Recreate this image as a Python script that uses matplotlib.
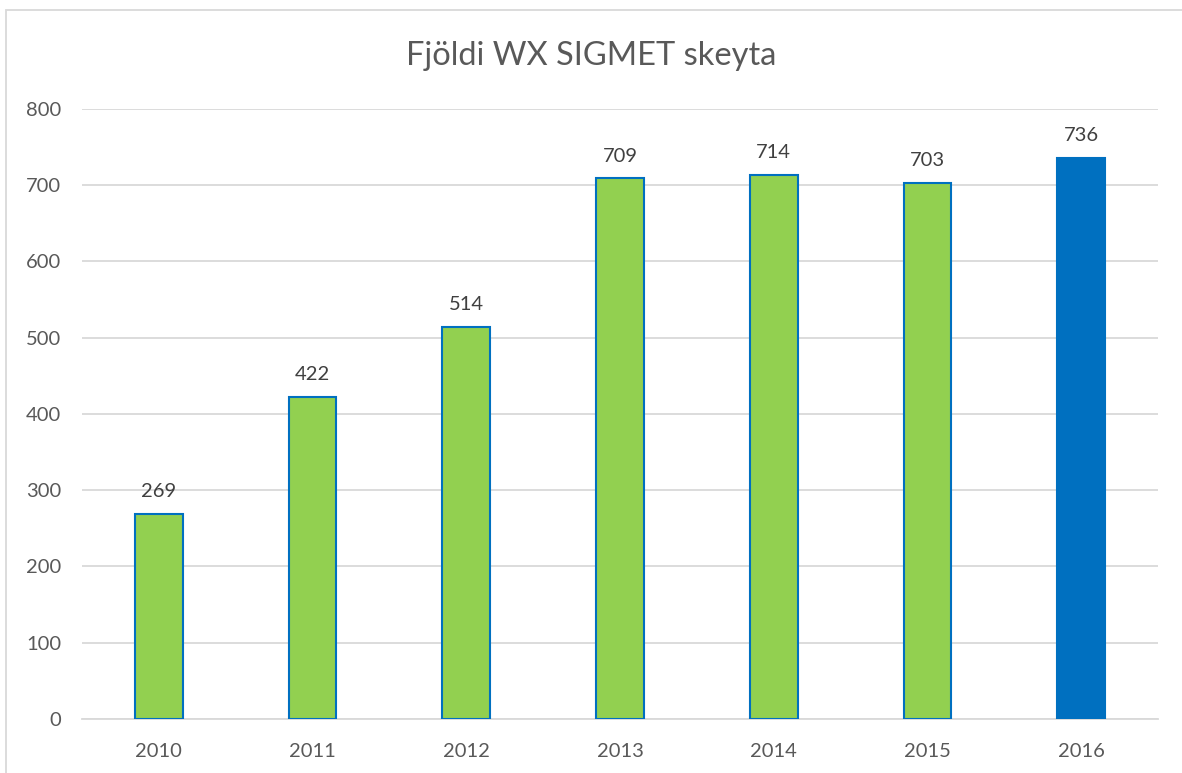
import matplotlib
matplotlib.use('Agg')
import matplotlib.pyplot as plt
from matplotlib.patches import Rectangle

# gögn
years = ['2010', '2011', '2012', '2013', '2014', '2015', '2016']
counts = [269, 422, 514, 709, 714, 703, 736]
yticks = [0, 100, 200, 300, 400, 500, 600, 700, 800]

green = '#92D050'
blue = '#0070C0'
txt = '#595959'

plt.rcParams['font.family'] = ['Lato', 'DejaVu Sans']

fig = plt.figure(figsize=(11.82, 7.73), dpi=100)
ax = fig.add_axes([0.0694, 0.0699, 0.9103, 0.7891])

colors = [green] * (len(years) - 1) + [blue]
x = range(len(years))
bars = ax.bar(x, counts, width=0.31, color=colors, edgecolor=blue, linewidth=1.5, zorder=3)

for xi, v in zip(x, counts):
    ax.text(xi, v + 18, str(v), ha='center', va='bottom', fontsize=14.5, color='#404040')

ax.set_xlim(-0.5, len(years) - 0.5)
ax.set_ylim(0, 800)
ax.set_yticks(yticks)
ax.set_xticks(list(x))
ax.set_xticklabels(years)
ax.tick_params(axis='both', length=0, labelsize=14.5, labelcolor=txt)
ax.tick_params(axis='x', pad=17)
ax.tick_params(axis='y', pad=15)
ax.grid(axis='y', color='#D9D9D9', linewidth=1.3, zorder=0)
for s in ['top', 'right', 'left']:
    ax.spines[s].set_visible(False)
ax.spines['bottom'].set_color('#D9D9D9')
ax.spines['bottom'].set_linewidth(1.3)

fig.text(0.5, 0.928, 'Fjöldi WX SIGMET skeyta', ha='center', va='center', fontsize=23.5, color=txt)

# rammi um myndina
fig.patches.append(Rectangle((6 / 1182, -0.01), 1.02, 1 - 10 / 773 + 0.01, transform=fig.transFigure,
                             fill=False, edgecolor='#D9D9D9', linewidth=1.3))

fig.savefig('out.png', dpi=100)
